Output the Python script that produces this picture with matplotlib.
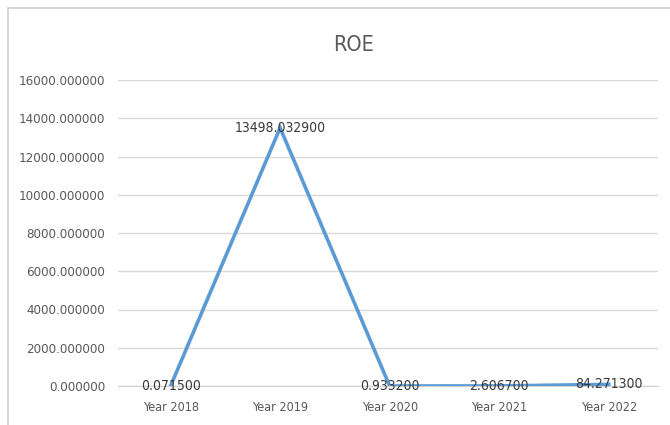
import matplotlib
matplotlib.use("Agg")
import matplotlib.pyplot as plt
from matplotlib.patches import Rectangle

years = ["Year 2018", "Year 2019", "Year 2020", "Year 2021", "Year 2022"]
roe = [0.0715, 13498.0329, 0.9332, 2.6067, 84.2713]
y_ticks = [0, 2000, 4000, 6000, 8000, 10000, 12000, 14000, 16000]

plt.rcParams["font.family"] = ["DejaVu Sans"]
plt.rcParams["font.stretch"] = "condensed"

fig = plt.figure(figsize=(6.7, 4.25), dpi=100)
fig.patch.set_facecolor("white")

# chart frame
fig.patches.append(Rectangle((8 / 670, -0.05), 1.2, 1 - 8 / 425 + 0.05,
                             transform=fig.transFigure, fill=False,
                             edgecolor="#d0d0d0", linewidth=1.2))

ax = fig.add_axes([118 / 670, 1 - 386 / 425, 540 / 670, 306 / 425])
x = list(range(len(years)))
ax.plot(x, roe, color="#5B9BD5", linewidth=2.6, solid_joinstyle="miter", zorder=3)

for xi, v in zip(x, roe):
    ax.text(xi, v, f"{v:.6f}", ha="center", va="center", fontsize=10,
            color="#3a3a3a", zorder=4)

ax.set_xlim(-0.48, len(years) - 0.55)
ax.set_ylim(0, 16000)
ax.set_yticks(y_ticks)
ax.set_yticklabels([f"{t:.6f}" for t in y_ticks])
ax.set_xticks(x)
ax.set_xticklabels(years)
ax.grid(axis="y", color="#d9d9d9", linewidth=1)
ax.set_axisbelow(True)
for s in ["top", "right", "left"]:
    ax.spines[s].set_visible(False)
ax.spines["bottom"].set_color("#d0d0d0")
ax.tick_params(axis="y", length=0, labelsize=9.5, colors="#595959", pad=9)
ax.tick_params(axis="x", length=0, labelsize=9, colors="#595959", pad=11)

fig.text(0.528, 1 - 45 / 425, "ROE", ha="center", va="center",
         fontsize=15.5, color="#595959")

fig.savefig("out.png", dpi=100)
